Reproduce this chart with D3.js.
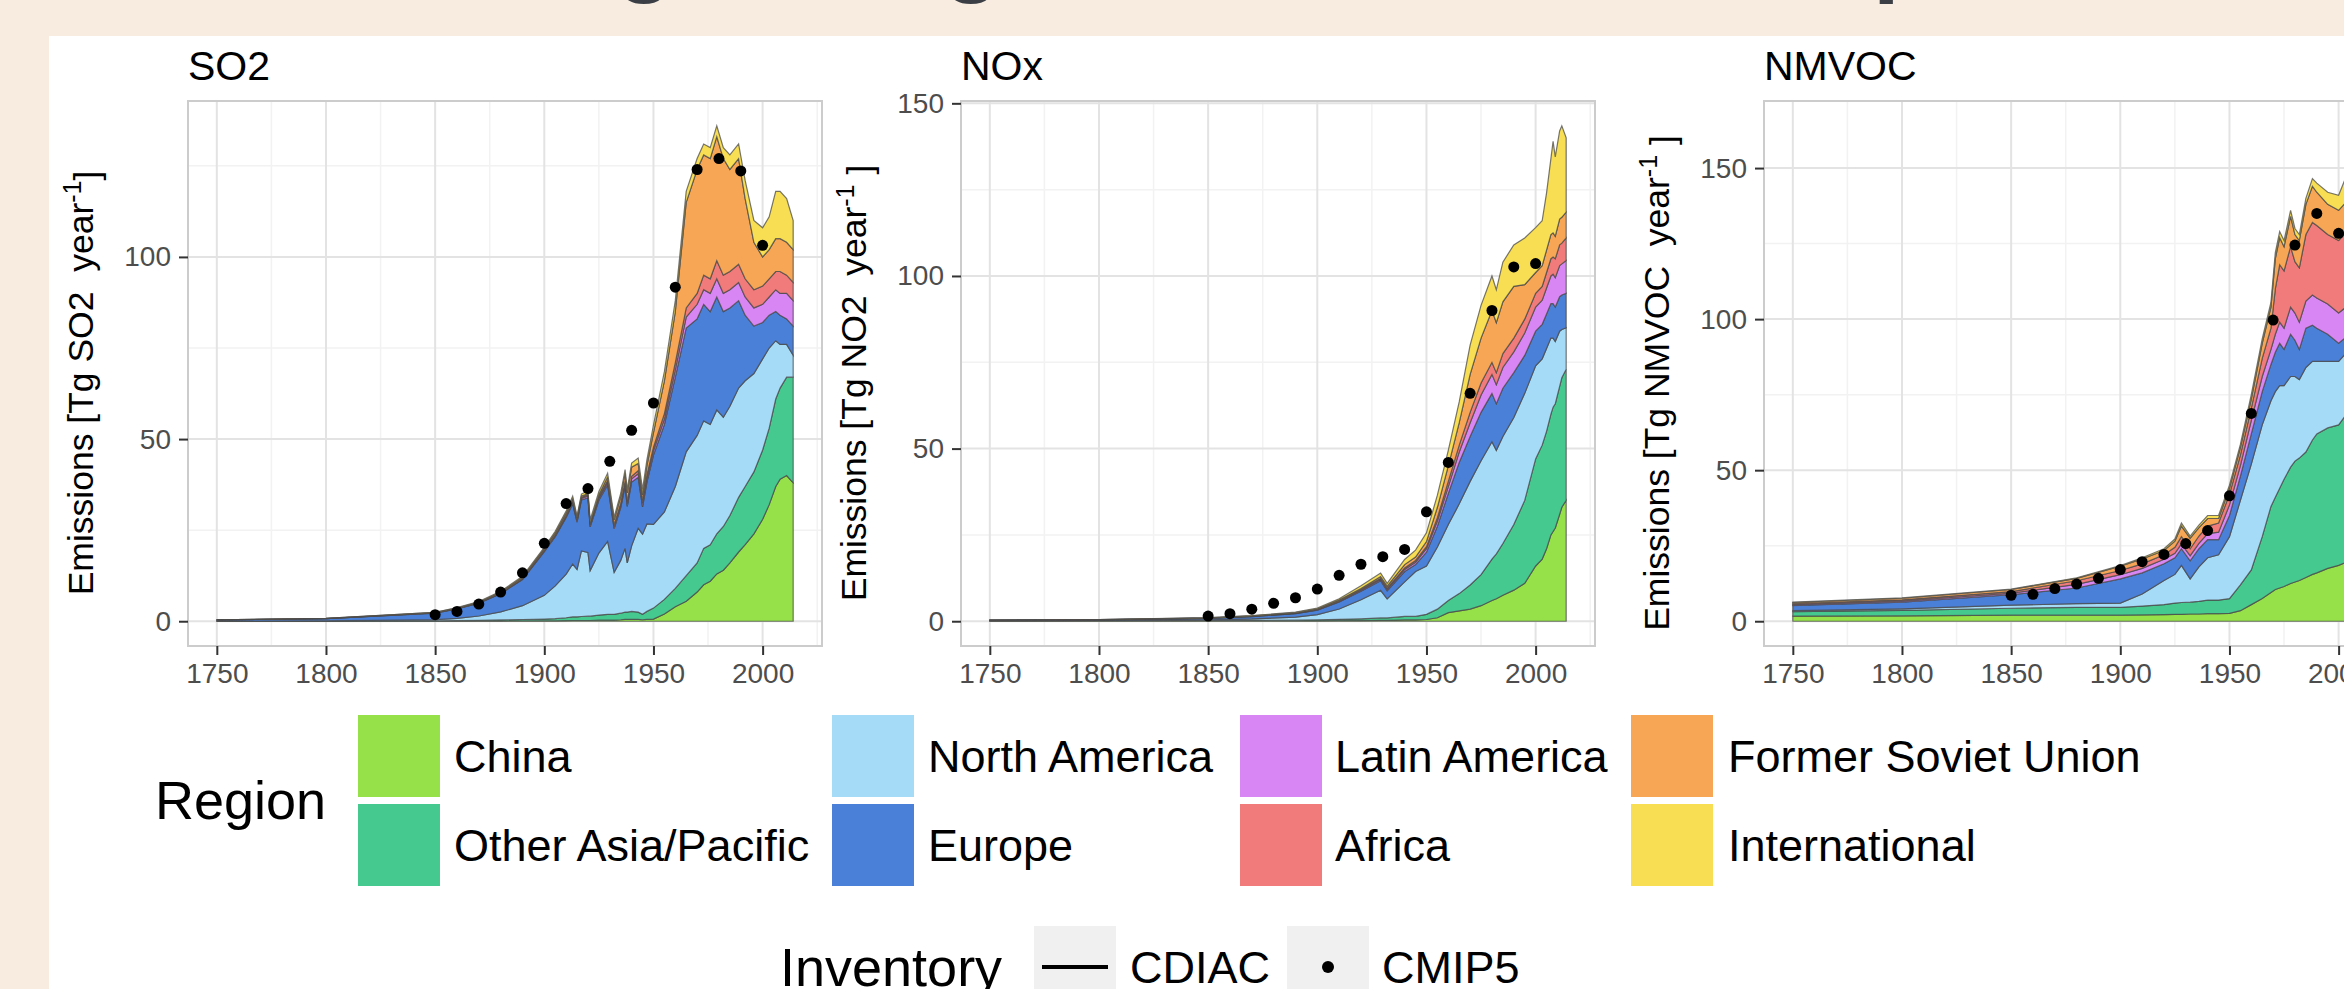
<!DOCTYPE html>
<html>
<head>
<meta charset="utf-8">
<script src="https://cdn.jsdelivr.net/npm/d3@7"></script>
<style>
  body { margin: 0; background: #f8ece1; }
  svg { display: block; }
  text { font-family: "Liberation Sans", Arial, sans-serif; white-space: pre; }
</style>
</head>
<body>
<svg width="2344" height="989"></svg>
<script>
// Regions, stacked bottom to top, and their fills
var regions = ['China', 'Other Asia/Pacific', 'North America', 'Europe',
               'Latin America', 'Africa', 'Former Soviet Union', 'International'];
var regionColors = ['#96e14a', '#46c98f', '#a6dbf7', '#4a80d8',
                    '#d986f5', '#f17b7b', '#f7a655', '#f7de53'];

var inventoryLabels = ['CDIAC', 'CMIP5'];
var xTicks = [1750, 1800, 1850, 1900, 1950, 2000];
var xMinor = [1775, 1825, 1875, 1925, 1975, 2025];

// CMIP5 points, one every ten years
var cmip5Years = [1850, 1860, 1870, 1880, 1890, 1900, 1910, 1920, 1930, 1940, 1950, 1960, 1970, 1980, 1990, 2000];
var so2Cmip5 = [1.8, 2.7, 4.7, 8.0, 13.3, 21.4, 32.3, 36.4, 43.9, 52.4, 59.9, 91.7, 124, 127, 123.6, 103.2];
var noxCmip5 = [1.5, 2.2, 3.5, 5.2, 6.8, 9.3, 13.3, 16.5, 18.7, 20.8, 31.7, 46, 66, 90, 102.6, 103.6];
var nmvocCmip5 = [8.6, 8.9, 10.8, 12.3, 14.2, 17.1, 19.7, 22.1, 25.7, 30.0, 41.5, 68.8, 99.7, 124.5, 135, 128.4];

// SO2 by region (Tg SO2 / year), one row per region in the order above
var so2Years = [1750,1800,1850,1860,1870,1880,1890,1900,1905,1910,1913,1915,1917,1920,1921,1925,1929,1932,1935,1937,1938,1940,1943,1945,1947,1950,1955,1960,1965,1970,1973,1976,1979,1982,1985,1989,1992,1996,2000,2003,2006,2008,2011,2014];
var so2Values = [
  [0,0,0.02,0.03,0.04,0.05,0.07,0.1,0.1,0.15,0.2,0.2,0.2,0.2,0.2,0.3,0.3,0.3,0.4,0.5,0.5,0.5,0.5,0.4,0.5,0.6,2,4,5.5,8,10,11,13,14,16,19,21,24,28,32,37,39,40,38],
  [0.05,0.05,0.1,0.15,0.2,0.3,0.4,0.5,0.6,0.8,1,1,1.1,1.2,1.2,1.4,1.6,1.6,1.8,2,2,2.2,2,1.5,2.2,3,4,5,7,8,10,10,11,12,13,15,16,17,19,21,24,25,27,29],
  [0,0.05,0.3,0.6,1.2,2.2,3.8,6.5,9,12,14.5,13,18,17.5,12.5,17,20,11.5,14.5,17.5,13.5,18,23,22,24,23,24,28,34,35,35,33,34,30,30,30,29,27,25,22,16,12,9,6],
  [0.3,0.6,1.8,2.6,3.5,5,7.2,12,13.5,15.5,16.5,13,14,15,12,14.5,15.5,12,14.5,17,15.5,17.5,14,7.5,11.5,19,24,30,34,32,32,31,31,29,27,24,18,13,10,9,8,8,7,8],
  [0,0.02,0.05,0.05,0.06,0.08,0.1,0.2,0.3,0.3,0.4,0.4,0.4,0.5,0.5,0.6,0.7,0.6,0.7,0.8,0.8,0.9,1,1,1.1,1.2,1.5,2,3,4,4,5,5,5,5,5,5,5,5,5,6,6,7,7],
  [0,0.02,0.05,0.05,0.06,0.08,0.1,0.2,0.2,0.3,0.3,0.3,0.3,0.3,0.3,0.4,0.5,0.5,0.5,0.6,0.6,0.7,0.8,0.8,0.9,1,1.5,2,2.5,3,4,4,5,5,5,5,5,5,5,5,5,6,5,5],
  [0.02,0.05,0.1,0.15,0.2,0.3,0.4,0.5,0.6,0.7,0.8,0.5,0.4,0.3,0.3,0.5,1,1.3,1.8,2.2,2.3,2.5,2,1.5,2.5,4,9,14,29,34,33,33,34,32,28,29,22,13,8,8,9,9,9,9],
  [0,0,0.05,0.1,0.15,0.2,0.25,0.3,0.4,0.5,0.6,0.5,0.5,0.8,0.8,0.9,1,0.8,0.9,1,1,1.1,1.5,1.5,1.6,2,2.5,3,3,3,3,3,3,3,4,4,5,6,8,9,13,13,12,8]
];

// NOx by region (Tg NO2 / year)
var noxYears = [1750,1800,1850,1870,1890,1900,1910,1920,1929,1932,1940,1945,1950,1955,1960,1965,1970,1975,1980,1982,1985,1990,1995,2000,2003,2005,2007,2008,2009,2011,2012,2014];
var noxValues = [
  [0.05,0.06,0.07,0.08,0.09,0.1,0.15,0.2,0.25,0.25,0.4,0.4,0.5,1,2.5,3,3.5,4.5,6,6.5,7.5,9,11,16,18,21,25,26,27,31,33,35],
  [0.1,0.12,0.15,0.18,0.22,0.3,0.4,0.5,0.7,0.7,1,1,1.5,2.5,3.5,5,7,9,12,13,15,19,24,31,33,34,35,36,36,37,37.5,38],
  [0.03,0.05,0.2,0.4,0.9,1.5,3,5.5,8,5.5,10,13,14,18,22,26,30,33,34,30,31,31,31,27,25,24,22,20,18,16,14,12],
  [0.1,0.15,0.4,0.7,1,1.3,2,2.5,2.8,2.4,3,2,4,6,9,12,13,14,14,13.5,14,13,11,10,10,10,10,10,10,10,10,10],
  [0.02,0.03,0.05,0.06,0.08,0.1,0.15,0.3,0.4,0.4,0.6,0.7,1,1.5,2,3,4,5,5.5,5.5,6,6,6.5,7,7,7.5,8,8.5,8.5,9,9,9.5],
  [0.02,0.03,0.05,0.06,0.08,0.1,0.12,0.2,0.3,0.3,0.4,0.5,0.6,1,1.5,2,3,3.5,3.5,3.5,4,4,4,4,4,4.5,5,5,5.5,6,6,6.5],
  [0.02,0.03,0.05,0.06,0.1,0.2,0.3,0.3,0.5,0.6,1,1,1.5,3,4.5,6.5,11,13,15,14.5,15,15,10,6,6,6.5,7,7,6.5,7.5,7.5,7.5],
  [0,0,0.05,0.1,0.15,0.2,0.4,0.8,1,0.8,1.5,2,2.5,3.5,4.5,6,8.5,9.5,10,9.5,11.5,12,13.5,13,13,16.5,22,26.5,23,25.5,26.5,21.5]
];

// NMVOC by region (Tg NMVOC / year)
var nmvocYears = [1750,1800,1850,1880,1900,1910,1920,1925,1928,1932,1936,1940,1945,1950,1955,1960,1965,1969,1971,1973,1975,1978,1980,1982,1985,1988,1990,1995,2000,2005,2010,2014];
var nmvocValues = [
  [1.7,1.8,2.0,2.0,2.0,2.1,2.2,2.3,2.3,2.4,2.4,2.5,2.5,2.6,3.5,5.5,7.5,9.5,10.5,11,11.5,12.5,13,13.5,14.5,15.5,16,17.5,18.5,20,21,22],
  [1.5,1.8,2.3,2.6,2.6,2.9,3.3,3.7,3.9,3.9,4.2,4.5,4.5,4.9,8.5,11.5,20.5,28.5,30.5,33,35.5,38.5,40,40.5,41.5,44.5,46,46.5,46.5,50,59,62],
  [0.3,0.5,1.0,1.2,1.4,4.0,8.0,9.5,12.3,7.7,11.4,14,15,20.5,28,35,37,35,35,34,31,30,28,26,28,26,24,22,21,20,18,17],
  [1.7,2.2,3.5,5.2,8.0,7.0,5.5,5.5,5.5,6.0,6.0,6.0,5.0,7.0,8.0,10,11,12,13,14,12,14,12,10,13,12,11,9,6,5,5,5],
  [0.3,0.4,0.5,1.2,1.4,1.5,1.5,1.5,1.6,1.7,1.8,2.0,2.5,3.5,3.5,4.5,5,5,6,7,7,9,9,9,9,10,10,10,10,10,11,11],
  [0.3,0.4,0.5,1.2,1.4,1.5,1.5,2.0,2.4,2.3,2.4,2.5,3.0,3.5,3.5,4.0,6,7,15,19,19,20,17,18,22,24,24,23,24,25,26,26],
  [0.4,0.5,0.7,0.8,1.4,1.6,1.4,2.0,3.5,3.5,2.8,2.5,1.5,2.0,2.5,3.0,5,7,10,9,8,10,9,9,10,12,11,10,10,10,10,10],
  [0.1,0.1,0.1,0.2,0.2,0.4,0.6,0.7,1.0,0.7,0.8,1.0,1.0,1.0,1.0,1.5,1.5,1.5,2,2,2,2,2,2,2,2.5,3,4,5,10,12,11]
];

var svg = d3.select('svg');

// page background: beige strip, white figure area
svg.append('rect').attr('width', 2344).attr('height', 989).attr('fill', '#f8ece1');
svg.append('rect').attr('x', 49).attr('y', 36).attr('width', 2295).attr('height', 953).attr('fill', '#ffffff');

// bottoms of the large heading letters that are cut off above the picture
var headG = svg.append('g')
    .style('font-family', '"Open Sans", sans-serif')
    .style('font-weight', 700)
    .style('font-size', '96px')
    .attr('fill', '#3b3f45');
headG.append('text').attr('x', 645).attr('y', -16).attr('text-anchor', 'middle').text('g');
headG.append('text').attr('x', 972).attr('y', -16).attr('text-anchor', 'middle').text('g');
headG.append('text').attr('x', 1873).attr('y', -16).text('p');

var panelTop = 101, panelBottom = 646, panelWidth = 634;
var yTitleCenter = 383;

var panels = [
    {title: 'SO2', gas: 'SO2', end: ']', left: 188, years: so2Years, values: so2Values, cmip5: so2Cmip5},
    {title: 'NOx', gas: 'NO2', end: ' ]', left: 961, years: noxYears, values: noxValues, cmip5: noxCmip5},
    {title: 'NMVOC', gas: 'NMVOC', end: ' ]', left: 1764, years: nmvocYears, values: nmvocValues, cmip5: nmvocCmip5}
];

panels.forEach(function(p) {
    var rows = p.years.map(function(yr, i) {
        var row = {year: yr};
        regions.forEach(function(r, k) { row[r] = p.values[k][i]; });
        return row;
    });
    var series = d3.stack().keys(regions)(rows);

    var maxY = d3.max(series[series.length - 1], function(d) { return d[1]; });
    var xExt = d3.extent(p.years);
    var xPad = (xExt[1] - xExt[0]) * 0.05;

    var x = d3.scaleLinear()
        .domain([xExt[0] - xPad, xExt[1] + xPad])
        .range([p.left, p.left + panelWidth]);
    var y = d3.scaleLinear()
        .domain([-maxY * 0.05, maxY * 1.05])
        .range([panelBottom, panelTop]);

    var yTicks = y.ticks(4).filter(function(v) { return v % 50 === 0 && v >= 0; });
    var yMinor = yTicks.map(function(v) { return v + 25; })
        .filter(function(v) { return v < y.domain()[1]; });

    var g = svg.append('g');

    // grid
    g.selectAll('.xminor').data(xMinor.filter(function(v) { return v < x.domain()[1]; }))
        .enter().append('line')
        .attr('x1', x).attr('x2', x).attr('y1', panelTop).attr('y2', panelBottom)
        .attr('stroke', '#f2f2f2').attr('stroke-width', 1.5);
    g.selectAll('.yminor').data(yMinor)
        .enter().append('line')
        .attr('x1', p.left).attr('x2', p.left + panelWidth)
        .attr('y1', y).attr('y2', y)
        .attr('stroke', '#f2f2f2').attr('stroke-width', 1.5);
    g.selectAll('.xmajor').data(xTicks)
        .enter().append('line')
        .attr('x1', x).attr('x2', x).attr('y1', panelTop).attr('y2', panelBottom)
        .attr('stroke', '#e3e3e3').attr('stroke-width', 2);
    g.selectAll('.ymajor').data(yTicks)
        .enter().append('line')
        .attr('x1', p.left).attr('x2', p.left + panelWidth)
        .attr('y1', y).attr('y2', y)
        .attr('stroke', '#e3e3e3').attr('stroke-width', 2);

    // stacked areas
    var area = d3.area()
        .x(function(d) { return x(d.data.year); })
        .y0(function(d) { return y(d[0]); })
        .y1(function(d) { return y(d[1]); });

    g.selectAll('.layer').data(series)
        .enter().append('path')
        .attr('d', area)
        .attr('fill', function(d, i) { return regionColors[i]; })
        .attr('stroke', '#4a4a4a')
        .attr('stroke-width', 1.2)
        .attr('stroke-opacity', 0.75);

    // CMIP5 points
    g.selectAll('.dot').data(p.cmip5)
        .enter().append('circle')
        .attr('cx', function(d, i) { return x(cmip5Years[i]); })
        .attr('cy', function(d) { return y(d); })
        .attr('r', 5.5)
        .attr('fill', '#000');

    // panel border
    g.append('rect')
        .attr('x', p.left).attr('y', panelTop)
        .attr('width', panelWidth).attr('height', panelBottom - panelTop)
        .attr('fill', 'none').attr('stroke', '#cccccc').attr('stroke-width', 2);

    // axes
    var xAxis = d3.axisBottom(x).tickValues(xTicks).tickFormat(d3.format('d'))
        .tickSize(9).tickPadding(8);
    var yAxis = d3.axisLeft(y).tickValues(yTicks).tickSize(9).tickPadding(8);

    var xg = g.append('g').attr('transform', 'translate(0,' + panelBottom + ')').call(xAxis);
    var yg = g.append('g').attr('transform', 'translate(' + p.left + ',0)').call(yAxis);
    [xg, yg].forEach(function(a) {
        a.select('.domain').remove();
        a.selectAll('line').attr('stroke', '#333').attr('stroke-width', 2);
        a.selectAll('text')
            .attr('fill', '#4d4d4d')
            .style('font-size', '28px')
            .style('font-family', '"Liberation Sans", Arial, sans-serif');
    });

    // panel title
    g.append('text')
        .attr('x', p.left).attr('y', 80)
        .style('font-size', '41px')
        .attr('fill', '#000')
        .text(p.title);

    // y axis title with superscript
    var yt = g.append('text')
        .attr('transform', 'translate(' + (p.left - 107) + ',' + yTitleCenter + ') rotate(-90)')
        .attr('text-anchor', 'middle')
        .attr('dy', '0.35em')
        .style('font-size', '35.5px')
        .attr('fill', '#000');
    yt.append('tspan').text('Emissions [Tg ' + p.gas + '  year');
    yt.append('tspan').attr('dy', '-0.5em').style('font-size', '25px').text('-1');
    yt.append('tspan').attr('dy', '0.5em').text(p.end);
});

// Region legend
svg.append('text')
    .attr('x', 155).attr('y', 819)
    .style('font-size', '54px')
    .attr('fill', '#000')
    .text('Region');

var legendCols = [358, 832, 1240, 1631];
var legendLabelX = [454, 928, 1335, 1728];
var legendRows = [715, 804];
var keySize = 82;

regions.forEach(function(r, i) {
    var col = Math.floor(i / 2), row = i % 2;
    svg.append('rect')
        .attr('x', legendCols[col]).attr('y', legendRows[row])
        .attr('width', keySize).attr('height', keySize)
        .attr('fill', regionColors[i]);
    svg.append('text')
        .attr('x', legendLabelX[col])
        .attr('y', legendRows[row] + keySize / 2)
        .attr('dy', '0.35em')
        .style('font-size', '45px')
        .attr('fill', '#000')
        .text(r);
});

// Inventory legend
svg.append('text')
    .attr('x', 780).attr('y', 986)
    .style('font-size', '54px')
    .attr('fill', '#000')
    .text('Inventory');

var invKeyX = [1034, 1287];
var invLabelX = [1130, 1382];
invKeyX.forEach(function(kx, i) {
    svg.append('rect')
        .attr('x', kx).attr('y', 926)
        .attr('width', keySize).attr('height', keySize)
        .attr('fill', '#f0f0f0');
    svg.append('text')
        .attr('x', invLabelX[i]).attr('y', 967)
        .attr('dy', '0.35em')
        .style('font-size', '45px')
        .attr('fill', '#000')
        .text(inventoryLabels[i]);
});
svg.append('line')
    .attr('x1', invKeyX[0] + 8).attr('x2', invKeyX[0] + keySize - 8)
    .attr('y1', 967).attr('y2', 967)
    .attr('stroke', '#000').attr('stroke-width', 4);
svg.append('circle')
    .attr('cx', invKeyX[1] + keySize / 2).attr('cy', 967)
    .attr('r', 6).attr('fill', '#000');
</script>
</body>
</html>
